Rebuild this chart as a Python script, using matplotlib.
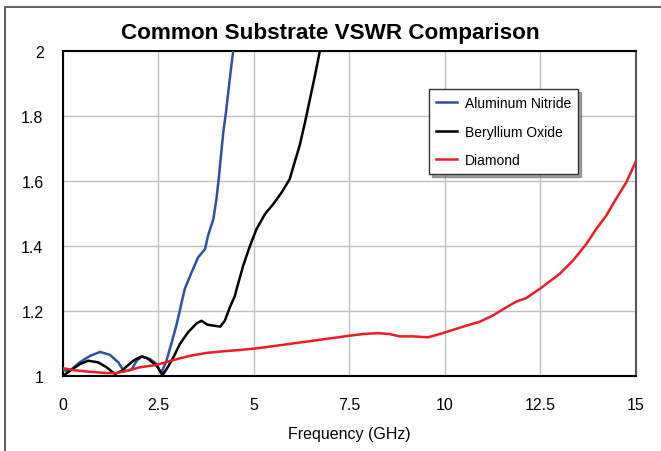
import matplotlib
matplotlib.use("Agg")
import matplotlib.pyplot as plt
from matplotlib.patches import Rectangle

plt.rcParams['font.family'] = ['Liberation Sans', 'DejaVu Sans']

# Frequency (GHz) / VSWR samples for each substrate
aln_freq = [0.0, 0.18, 0.45, 0.71, 0.97, 1.23, 1.45, 1.6, 1.8, 1.93, 2.07, 2.28, 2.45, 2.57,
            2.71, 2.85, 2.98, 3.11, 3.19, 3.37, 3.54, 3.72, 3.80, 3.94, 4.02, 4.08, 4.13,
            4.20, 4.27, 4.33, 4.39, 4.46]
aln_vswr = [1.018, 1.016, 1.043, 1.062, 1.074, 1.065, 1.042, 1.014, 1.02, 1.047, 1.06, 1.052,
            1.037, 1.008, 1.047, 1.104, 1.16, 1.227, 1.268, 1.319, 1.365, 1.39, 1.432, 1.483,
            1.545, 1.606, 1.668, 1.75, 1.811, 1.873, 1.934, 2.0]

beo_freq = [0.0, 0.18, 0.45, 0.66, 0.92, 1.14, 1.36, 1.54, 1.71, 1.88, 2.06, 2.2, 2.32, 2.45,
            2.61, 2.76, 2.89, 3.06, 3.28, 3.5, 3.63, 3.78, 3.94, 4.12, 4.24, 4.37, 4.5, 4.55,
            4.72, 4.9, 5.07, 5.29, 5.51, 5.73, 5.94, 6.07, 6.2, 6.34, 6.47, 6.6, 6.73]
beo_vswr = [1.0, 1.016, 1.037, 1.047, 1.042, 1.027, 1.006, 1.016, 1.034, 1.05, 1.06, 1.055,
            1.044, 1.032, 1.003, 1.03, 1.057, 1.098, 1.135, 1.162, 1.17, 1.158, 1.155, 1.152,
            1.17, 1.211, 1.245, 1.268, 1.339, 1.401, 1.452, 1.498, 1.529, 1.565, 1.606, 1.658,
            1.709, 1.78, 1.852, 1.924, 2.0]

dia_freq = [0.0, 0.27, 0.71, 1.14, 1.4, 1.67, 2.02, 2.45, 2.89, 3.32, 3.76, 4.2, 4.63, 5.07,
            5.77, 6.64, 7.51, 7.86, 8.25, 8.56, 8.82, 9.17, 9.56, 9.87, 10.22, 10.57, 10.92,
            11.26, 11.61, 11.88, 12.14, 12.49, 13.01, 13.36, 13.71, 13.97, 14.23, 14.49, 14.76,
            15.0]
dia_vswr = [1.024, 1.018, 1.013, 1.009, 1.009, 1.016, 1.027, 1.034, 1.049, 1.062, 1.071, 1.076,
            1.08, 1.085, 1.096, 1.11, 1.124, 1.129, 1.132, 1.129, 1.122, 1.122, 1.119, 1.129,
            1.142, 1.155, 1.167, 1.186, 1.211, 1.229, 1.24, 1.268, 1.314, 1.355, 1.406, 1.452,
            1.493, 1.545, 1.596, 1.658]

x_ticks = [0, 2.5, 5, 7.5, 10, 12.5, 15]
x_tick_labels = ["0", "2.5", "5", "7.5", "10", "12.5", "15"]
y_ticks = [1, 1.2, 1.4, 1.6, 1.8, 2]
y_tick_labels = ["1", "1.2", "1.4", "1.6", "1.8", "2"]

fig = plt.figure(figsize=(6.61, 4.52), dpi=100)
fig.patch.set_facecolor("white")

# outer chart frame
fig.patches.append(Rectangle((5 / 661, -0.1), 1.2, 1.1 - 8 / 452,
                             transform=fig.transFigure, fill=False,
                             edgecolor="#444444", linewidth=1.2, zorder=0))

ax = fig.add_axes([63 / 661, 75 / 452, (635.5 - 63) / 661, (377 - 52) / 452])

ax.plot(aln_freq, aln_vswr, color="#2f4fa8", lw=1.8, label="Aluminum Nitride", zorder=3)
ax.plot(beo_freq, beo_vswr, color="black", lw=1.8, label="Beryllium Oxide", zorder=3)
ax.plot(dia_freq, dia_vswr, color="#ee1c25", lw=1.8, label="Diamond", zorder=3)

ax.set_xlim(0, 15)
ax.set_ylim(1, 2)
ax.set_xticks(x_ticks)
ax.set_xticklabels(x_tick_labels)
ax.set_yticks(y_ticks)
ax.set_yticklabels(y_tick_labels)
ax.tick_params(axis="both", length=0, labelsize=11.5)
ax.tick_params(axis="x", pad=15)
ax.tick_params(axis="y", pad=14)
ax.grid(True, color="#c0c0c0", lw=1.0)
ax.set_axisbelow(True)
for side in ["left", "bottom", "top"]:
    ax.spines[side].set_color("black")
    ax.spines[side].set_linewidth(1.5)
ax.spines["right"].set_color("#555555")
ax.spines["right"].set_linewidth(1.5)

ax.set_xlabel("Frequency (GHz)", fontsize=11.5, labelpad=10)
fig.text(0.5, (452 - 33) / 452, "Common Substrate VSWR Comparison",
         ha="center", va="center", fontsize=16.2, fontweight="bold")

leg = ax.legend(loc="upper left", bbox_to_anchor=((429 - 63) / (635.5 - 63), (377 - 90) / 325),
                frameon=True, fancybox=False, shadow=True, fontsize=10,
                handlelength=1.5, borderpad=0.5, labelspacing=1.05, handletextpad=0.6,
                borderaxespad=0)
leg.get_frame().set_edgecolor("#333333")
leg.get_frame().set_linewidth(1.0)

fig.savefig("out.png", dpi=100)
